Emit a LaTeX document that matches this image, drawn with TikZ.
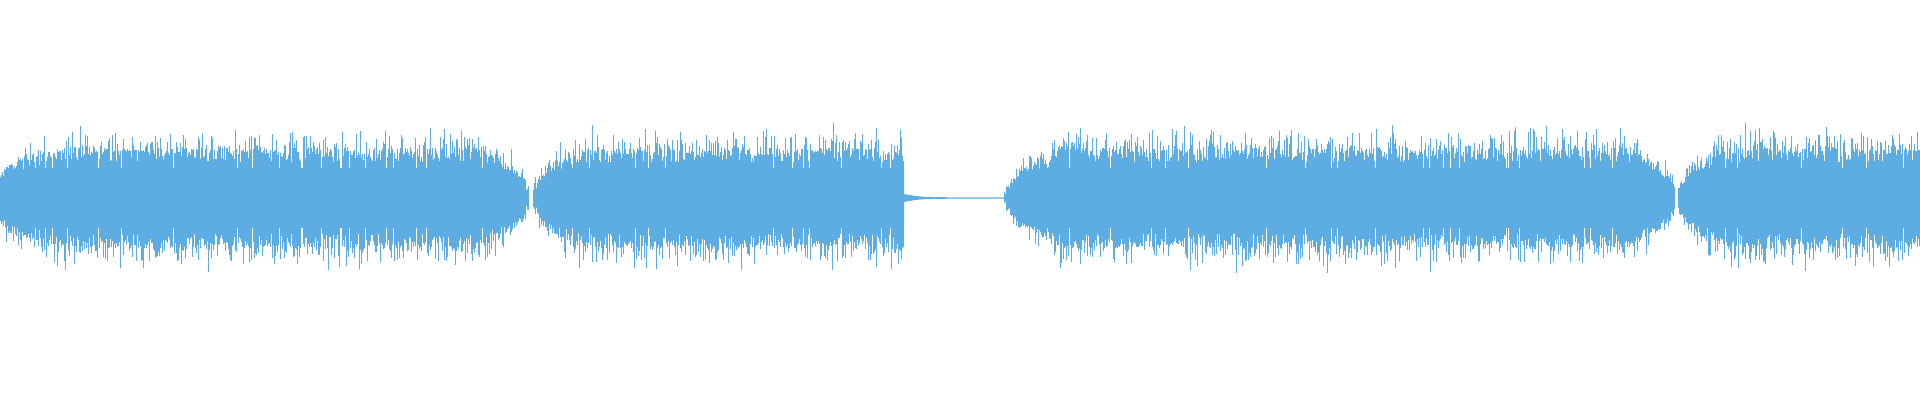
\documentclass[tikz,border=0pt]{standalone}
\definecolor{wc}{RGB}{93,172,226}
\newcommand\wseg[7]{%
 \fill[wc] (#1,202-30*#6) .. controls (#1+#3*0.3,202-30) .. (#1+#3,202-30) -- (#2-#4,202-30) .. controls (#2-#4*0.3,202-30) .. (#2,202-30*#7) -- (#2,202+30*#7) .. controls (#2-#4*0.3,202+30) .. (#2-#4,202+30) -- (#1+#3,202+30) .. controls (#1+#3*0.3,202+30) .. (#1,202+30*#6) -- cycle;
 \foreach \k in {1,...,#5}{%
  \pgfmathsetmacro\xx{#1+(#2-#1)*rnd}%
  \pgfmathsetmacro\tl{#6+(1-#6)*sqrt(min(1,(\xx-#1)/#3))}%
  \pgfmathsetmacro\tr{#7+(1-#7)*sqrt(min(1,(#2-\xx)/#4))}%
  \pgfmathsetmacro\tf{min(\tl,\tr)}%
  \pgfmathsetmacro\up{\tf*(36+14*rnd^2+26*rnd^8)}%
  \pgfmathsetmacro\dn{\tf*(36+14*rnd^2+26*rnd^8)}%
  \draw[wc,line width=0.45pt] (\xx,202+\up) -- (\xx,202-\dn);
 }}
\begin{document}
\begin{tikzpicture}[x=1pt,y=1pt]
\pgfmathsetseed{7}
\useasboundingbox (0,0) rectangle (1920,400);
\wseg{0}{529}{60}{50}{1600}{0.45}{0.12}
\wseg{533}{904}{50}{1}{1100}{0.12}{1}
\wseg{1004}{1675}{60}{50}{2000}{0.05}{0.12}
\wseg{1678}{1920}{50}{1}{750}{0.12}{1}
\fill[wc] (904,206) .. controls (920,203) .. (960,202.6) -- (1004,202.6) -- (1004,201.4) -- (960,201.4) .. controls (920,201) .. (904,198) -- cycle;
\end{tikzpicture}
\end{document}
